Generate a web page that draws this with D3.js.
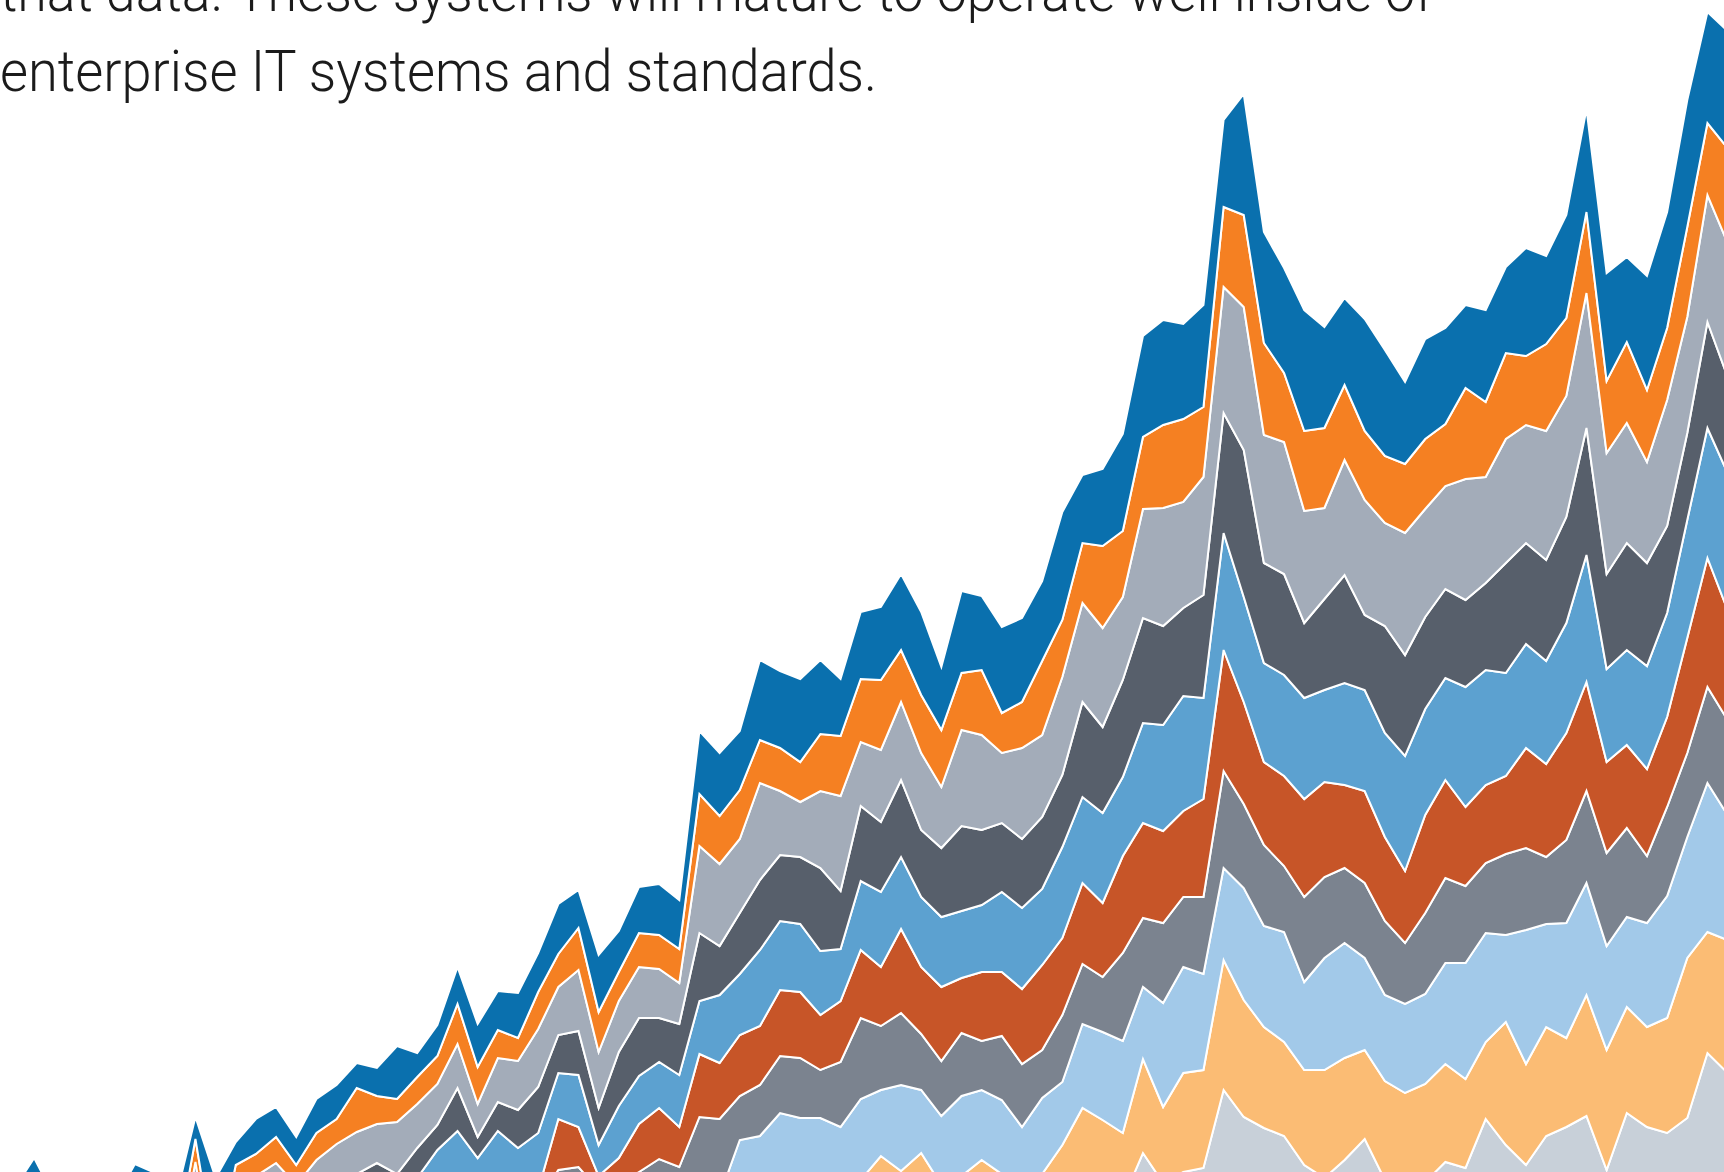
<!DOCTYPE html>
<html>
<head>
<meta charset="utf-8">
<script src="https://cdn.jsdelivr.net/npm/d3@7"></script>
<style>
  html, body { margin: 0; padding: 0; background: #fff; overflow: hidden; }
  svg { display: block; }
  .blurb { font-family: Roboto, Lato, "Open Sans", sans-serif; font-weight: 300; fill: #1b1b1b; }
</style>
</head>
<body>
<div id="chart"></div>
<script>
// values per period for each layer, top of the stack first
var layer1 = [10,27,10,10,10,10,21,17,50,22, 82,23,35,30,28,34,34,25,28,53,
  24,31,37,43,39,45,39,50,38,57, 41,46,51,49,63,63,59,80,77,83,
  74,57,67,73,76,83,63,82,74,86, 84,80,108,68,77,97,101,105,95,102,
  87,121,111,105,121,101,87,112,106,82, 100,96,83,92,86,108,88,103,103,108,
  85,114,116,127,111,117];
var layer2 = [10,10,10,10,10,10,10,10,20,23, 20,20,22,26,20,27,25,44,28,23,
  27,28,40,37,28,23,37,33,42,40, 29,34,34,34,52,48,49,43,43,40,
  57,60,63,70,52,58,57,57,65,40, 46,74,57,60,82,66,72,83,83,70,
  80,92,92,69,80,80,75,69,67,69, 70,62,91,75,86,69,87,78,81,72,
  81,72,72,90,72,95];
var layer3 = [10,10,10,10,10,10,10,10,10,23, 10,10,14,22,10,25,36,42,39,52,
  44,41,44,33,44,49,58,48,61,56, 51,51,49,41,87,82,74,97,64,55,
  77,95,64,72,78,77,61,96,95,70, 91,82,98,99,99,83,109,118,106,118,
  126,143,128,132,112,91,115,115,103,122, 108,103,121,106,124,118,129,121,135,121,
  120,101,126,116,127,134];
var layer4 = [10,10,10,10,10,10,10,10,10,10, 10,10,10,10,10,10,10,11,22,11,
  30,25,43,21,29,38,46,38,44,37, 54,58,44,51,68,49,61,70,66,67,
  83,58,75,70,77,67,69,85,75,69, 69,72,72,95,86,97,105,99,88,103,
  120,147,100,101,75,91,108,75,107,101, 92,89,87,87,110,101,101,106,127,95,
  107,103,87,87,106,96];
var layer5 = [10,10,10,10,10,10,10,10,10,10, 10,10,10,10,10,10,10,10,10,10,
  12,35,49,32,54,37,57,46,52,31, 52,48,46,52,53,68,61,76,69,68,
  64,52,69,75,72,70,70,67,67,80, 81,76,91,86,90,79,100,106,115,101,
  117,105,99,101,101,92,102,101,104,115, 106,102,120,115,103,104,103,110,127,93,
  95,103,104,118,130,137];
var layer6 = [10,10,10,10,10,10,10,10,10,10, 10,10,10,10,10,10,10,10,10,10,
  10,10,10,10,10,10,10,51,40,14, 27,48,51,40,63,56,61,59,66,66,
  55,61,68,59,84,67,74,55,69,64, 75,85,77,81,74,97,95,92,86,98,
  121,102,83,90,98,95,83,92,84,72, 98,98,79,78,78,100,93,107,109,91,
  83,87,90,115,129,110];
var layer7 = [10,10,10,10,10,10,10,10,10,10, 10,10,10,10,10,10,10,10,10,10,
  10,10,10,10,10,10,10,20,23,10, 15,18,26,23,83,77,44,51,57,60,
  48,65,81,64,72,56,55,63,49,64, 63,48,67,60,55,88,69,80,70,77,
  97,84,81,66,85,81,75,75,74,61, 81,85,77,70,81,82,67,83,92,93,
  89,67,89,84,96,95];
var layer8 = [10,10,10,10,10,10,10,10,10,10, 10,10,10,10,10,10,10,10,10,10,
  10,10,10,10,10,10,10,10,10,10, 10,10,10,10,10,14,50,54,77,72,
  72,68,81,66,86,63,69,80,70,74, 63,76,63,84,88,92,72,104,106,96,
  92,112,101,110,88,112,115,92,86,89, 90,101,116,109,87,134,103,115,112,104,
  90,104,122,121,149,125];
var layer9 = [10,10,10,10,10,10,10,10,10,10, 10,10,10,10,10,10,10,10,10,10,
  10,10,10,10,10,10,10,10,10,10, 10,10,10,10,10,10,10,10,10,10,
  10,10,15,34,24,37,15,19,30,21, 15,26,50,82,70,67,94,76,99,98,
  130,117,101,94,95,108,102,89,99,97, 98,98,89,77,123,101,109,89,121,120,
  106,100,115,160,121,133];
var layer10 = [171,185,163,160,165,160,185,180,110,205, 100,195,200,205,195,205,210,215,215,215,
  220,225,230,220,225,225,220,240,240,230, 230,240,245,240,230,230,250,250,250,250,
  250,245,255,260,255,260,250,255,260,255, 245,250,255,260,260,250,297,267,278,282,
  360,333,322,314,285,272,290,311,270,260, 268,288,282,331,305,285,314,323,334,280,
  337,323,317,332,397,377];

var layerNames = ["layer1", "layer2", "layer3", "layer4", "layer5",
  "layer6", "layer7", "layer8", "layer9", "layer10"];
var layerColors = ["#0a70ae", "#f58022", "#a3acb9", "#575f6b", "#5ca1d0",
  "#c75528", "#7b838f", "#a2c9e9", "#fbbc74", "#c8d0d9"];

var blurbLines = [
  "that data. These systems will mature to operate well inside of",
  "enterprise IT systems and standards."
];

var width = 1724, height = 1172;

var svg = d3.select("#chart")
  .append("svg")
  .attr("width", width)
  .attr("height", height);

var layerValues = [layer1, layer2, layer3, layer4, layer5, layer6, layer7, layer8, layer9, layer10];

// one row per period
var rows = layer1.map(function (v, i) {
  var row = { period: i };
  layerNames.forEach(function (name, j) { row[name] = layerValues[j][i]; });
  return row;
});

// bottom of the stack first
var stack = d3.stack().keys(layerNames.slice().reverse());
var series = stack(rows);

var x = d3.scaleLinear()
  .domain([0, rows.length - 1])
  .range([14, 1727.6]);

var y = d3.scaleLinear()
  .domain([0, 1450])
  .range([1450, 0]);

var color = d3.scaleOrdinal().domain(layerNames).range(layerColors);

var area = d3.area()
  .x(function (d) { return x(d.data.period); })
  .y0(function (d) { return y(d[0]); })
  .y1(function (d) { return y(d[1]); });

svg.append("g")
  .selectAll("path")
  .data(series)
  .enter()
  .append("path")
  .attr("fill", function (d) { return color(d.key); })
  .attr("stroke", "#fff")
  .attr("stroke-width", 2)
  .attr("stroke-linejoin", "miter")
  .attr("d", area);

// text block, partly cut by the top edge like the source
var blurbWidths = [1433, 877];
var blurbBase = [11, 91];
svg.append("g")
  .selectAll("text")
  .data(blurbLines)
  .enter()
  .append("text")
  .attr("class", "blurb")
  .attr("x", 0)
  .attr("y", function (d, i) { return blurbBase[i]; })
  .attr("font-size", 58)
  .attr("textLength", function (d, i) { return blurbWidths[i]; })
  .attr("lengthAdjust", "spacingAndGlyphs")
  .text(function (d) { return d; });
</script>
</body>
</html>
